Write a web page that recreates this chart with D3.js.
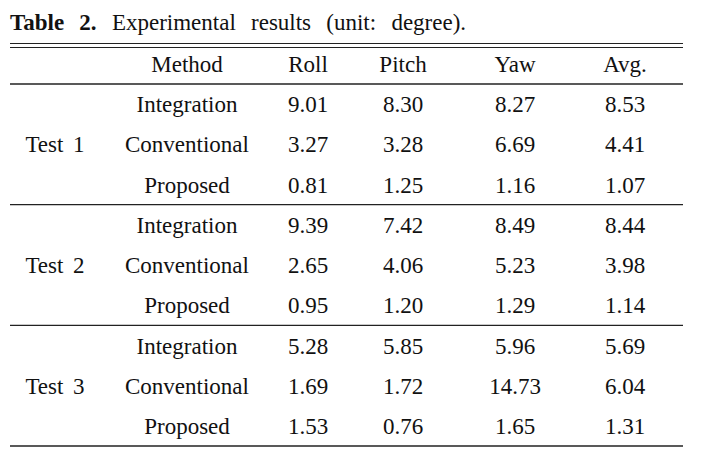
<!DOCTYPE html>
<html>
<head>
<meta charset="utf-8">
<script src="https://cdn.jsdelivr.net/npm/d3@7"></script>
<style>
  body { margin: 0; background: #fff; }
  text { font-family: "Liberation Serif", "Times New Roman", serif; fill: #111; }
</style>
</head>
<body>
<div id="container"></div>
<script>
const columns = ['Method', 'Roll', 'Pitch', 'Yaw', 'Avg.'];
const tests = ['Test 1', 'Test 2', 'Test 3'];
const methods = ['Integration', 'Conventional', 'Proposed'];
const roll = [[9.01, 3.27, 0.81], [9.39, 2.65, 0.95], [5.28, 1.69, 1.53]];
const pitch = [[8.30, 3.28, 1.25], [7.42, 4.06, 1.20], [5.85, 1.72, 0.76]];
const yaw = [[8.27, 6.69, 1.16], [8.49, 5.23, 1.29], [5.96, 14.73, 1.65]];
const avg = [[8.53, 4.41, 1.07], [8.44, 3.98, 1.14], [5.69, 6.04, 1.31]];

const width = 702, height = 449;
const left = 10, right = 683;

const svg = d3.select('#container').append('svg')
    .attr('width', width)
    .attr('height', height);

// caption
const cap = svg.append('text')
    .attr('x', left)
    .attr('y', 30)
    .attr('font-size', 23)
    .style('word-spacing', '9.5px');
cap.append('tspan').attr('font-weight', 'bold').text('Table 2.');
cap.append('tspan').text(' Experimental results (unit: degree).');

// column centres
const colX = d3.scaleOrdinal()
    .domain(['test'].concat(columns))
    .range([55, 187, 308, 403, 515, 625]);

// group blocks (vertical)
const groupY = d3.scaleBand()
    .domain(tests)
    .range([84, 446]);
const rowY = d3.scaleBand()
    .domain(methods)
    .range([0, groupY.bandwidth()]);

const line = (y, w) => svg.append('line')
    .attr('x1', left).attr('x2', right)
    .attr('y1', y).attr('y2', y)
    .attr('stroke', '#222')
    .attr('stroke-width', w || 1.5);

line(43.5, 1.2);
line(47.5, 1.2);
line(84);
tests.forEach((t, i) => line(groupY(t) + groupY.bandwidth(), i === tests.length - 1 ? 1.6 : 1.2));

// header
svg.selectAll('.head')
    .data(columns)
    .join('text')
    .attr('class', 'head')
    .attr('x', d => colX(d))
    .attr('y', 64)
    .attr('dy', '0.35em')
    .attr('text-anchor', 'middle')
    .attr('font-size', 23)
    .text(d => d);

const fmt = d3.format('.2f');
const rows = [];
tests.forEach((t, i) => {
    methods.forEach((m, j) => {
        rows.push({ test: t, method: m, vals: [roll[i][j], pitch[i][j], yaw[i][j], avg[i][j]] });
    });
});

const g = svg.selectAll('.row')
    .data(rows)
    .join('g')
    .attr('class', 'row')
    .attr('transform', d => `translate(0,${groupY(d.test) + rowY(d.method) + rowY.bandwidth() / 2})`);

g.append('text')
    .attr('x', colX('Method'))
    .attr('dy', '0.35em')
    .attr('text-anchor', 'middle')
    .attr('font-size', 23)
    .text(d => d.method);

g.selectAll('.val')
    .data(d => d.vals)
    .join('text')
    .attr('class', 'val')
    .attr('x', (d, i) => colX(columns[i + 1]))
    .attr('dy', '0.35em')
    .attr('text-anchor', 'middle')
    .attr('font-size', 23)
    .text(d => fmt(d));

svg.selectAll('.test')
    .data(tests)
    .join('text')
    .attr('class', 'test')
    .attr('x', colX('test'))
    .attr('y', d => groupY(d) + groupY.bandwidth() / 2)
    .attr('dy', '0.35em')
    .attr('text-anchor', 'middle')
    .attr('font-size', 23)
    .style('word-spacing', '4px')
    .text(d => d);
</script>
</body>
</html>
